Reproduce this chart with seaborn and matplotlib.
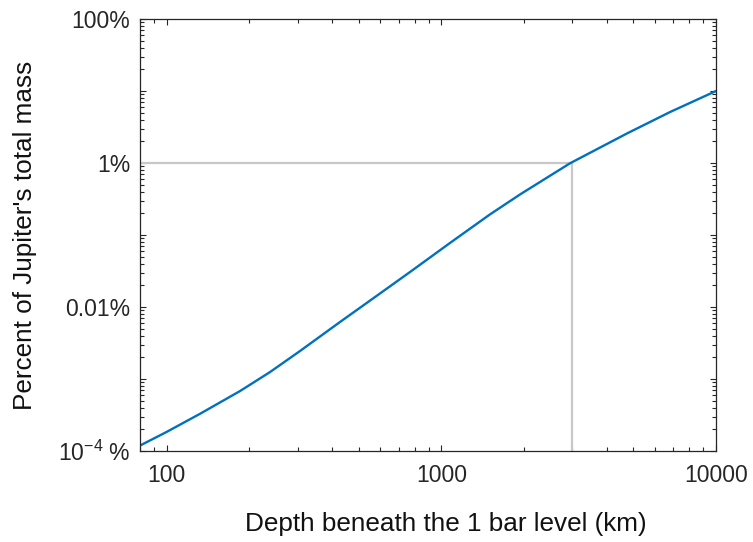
import numpy as np
import pandas as pd
import seaborn as sns
import matplotlib
matplotlib.use("Agg")
import matplotlib.pyplot as plt
from matplotlib.ticker import LogLocator, FuncFormatter, NullFormatter

# Values
depth_km = [80, 100, 132, 185, 238, 306, 428, 598, 769, 1075, 1503, 1933, 2940, 4740, 6800, 10000]
mass_pct = [1.19e-4, 1.84e-4, 3.27e-4, 6.8e-4, 1.25e-3, 2.45e-3, 6.2e-3, 0.0154, 0.0306,
            0.0774, 0.193, 0.365, 0.99, 2.57, 5.1, 10.0]

marker_depth = 3000
marker_pct = 1.0

x_ticks = [100, 1000, 10000]
x_ticklabels = ["100", "1000", "10000"]
y_labelled = {100: "100%", 1: "1%", 0.01: "0.01%", 1e-4: r"$\mathregular{10^{-4}}$ %"}

sns.set_theme(style="ticks")
plt.rcParams["font.family"] = ["Liberation Sans", "DejaVu Sans"]
plt.rcParams["mathtext.fontset"] = "custom"
plt.rcParams["mathtext.rm"] = "Liberation Sans"
plt.rcParams["axes.unicode_minus"] = False

df = pd.DataFrame({"depth": depth_km, "mass": mass_pct})

fig = plt.figure(figsize=(7.53, 5.42), dpi=100)
ax = fig.add_axes([140 / 753, 1 - 451 / 542, 576 / 753, 432 / 542])

# reference lines at 3000 km / 1%
ax.plot([80, marker_depth], [marker_pct, marker_pct], color="#c8c8c8", lw=1.6, zorder=1)
ax.plot([marker_depth, marker_depth], [1e-4, marker_pct], color="#c8c8c8", lw=1.6, zorder=1)

sns.lineplot(data=df, x="depth", y="mass", color="#0072BD", lw=1.7, ax=ax, zorder=2)

ax.set_xscale("log")
ax.set_yscale("log")
ax.set_xlim(80, 10000)
ax.set_ylim(1e-4, 100)

ax.set_xticks(x_ticks)
ax.set_xticklabels(x_ticklabels)
ax.xaxis.set_minor_locator(LogLocator(base=10, subs=np.arange(2, 10), numticks=20))
ax.xaxis.set_minor_formatter(NullFormatter())

ax.yaxis.set_major_locator(LogLocator(base=10, numticks=20))
ax.yaxis.set_major_formatter(FuncFormatter(
    lambda v, pos: next((s for k, s in y_labelled.items() if np.isclose(v, k)), "")))
ax.yaxis.set_minor_locator(LogLocator(base=10, subs=np.arange(2, 10), numticks=20))
ax.yaxis.set_minor_formatter(NullFormatter())

for side in ["top", "right", "left", "bottom"]:
    ax.spines[side].set_visible(True)
    ax.spines[side].set_color("#262626")
    ax.spines[side].set_linewidth(0.9)
ax.tick_params(which="both", direction="in", top=True, right=True,
               colors="#262626", labelsize=16.5, width=0.8)
ax.tick_params(which="major", length=4.5, pad=7)
ax.tick_params(which="minor", length=2.8)
ax.tick_params(axis="x", which="major", pad=9)

ax.set_xlabel("Depth beneath the 1 bar level (km)", fontsize=18.8, color="#111111", labelpad=18)
ax.set_ylabel("Percent of Jupiter's total mass", fontsize=18.8, color="#111111", labelpad=15)
ax.xaxis.label.set_x(0.531)

fig.savefig("out.png", dpi=100)
